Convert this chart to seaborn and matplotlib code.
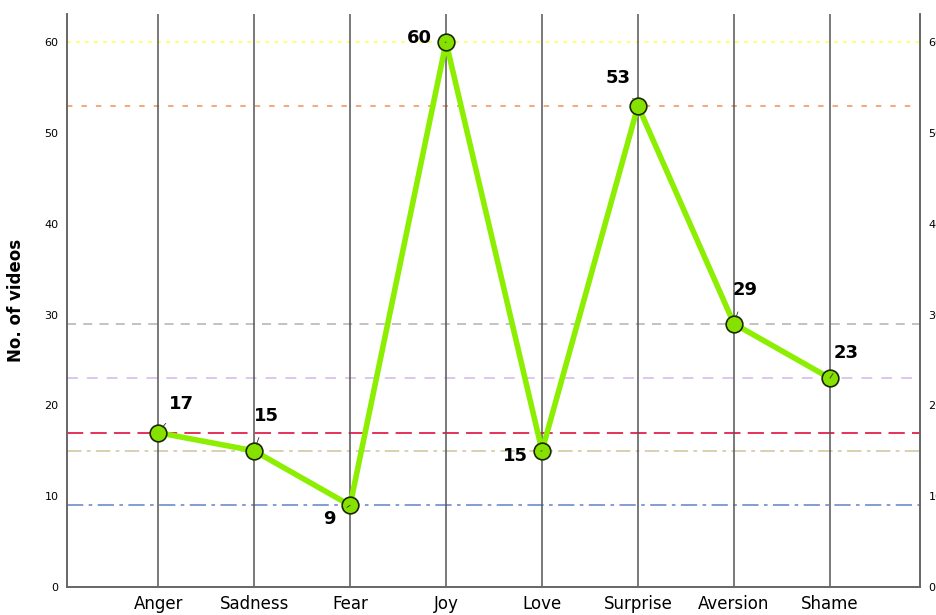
import numpy as np
import pandas as pd
import seaborn as sns
import matplotlib.pyplot as plt

emotions = ['Anger', 'Sadness', 'Fear', 'Joy', 'Love', 'Surprise', 'Aversion', 'Shame']
videos = [17, 15, 9, 60, 15, 53, 29, 23]

# label offsets (points) for each value annotation
label_offsets = [(17, 21), (9, 25), (-15, -10), (-19, 3), (-19, -4), (-14, 20), (8, 24), (12, 18)]

# reference line style per value
ref_styles = {
    60: ('#ffff60', (0, (2, 3))),
    53: ('#f4a070', (0, (3, 5))),
    29: ('#bdbdbd', (0, (5, 4))),
    23: ('#dcc0ec', (0, (6, 5))),
    17: ('#e3224c', (0, (9, 4))),
    15: ('#d2ceaa', (0, (8, 3, 2, 3))),
    9: ('#7894d2', (0, (9, 3, 2, 3))),
}

df = pd.DataFrame({'emotion': emotions, 'videos': videos})
df['pos'] = np.arange(len(df))

sns.set_style('white')
plt.rcParams['font.family'] = ['DejaVu Sans']
plt.rcParams['text.color'] = 'black'
plt.rcParams['axes.labelcolor'] = 'black'
plt.rcParams['xtick.color'] = 'black'
plt.rcParams['ytick.color'] = 'black'

fig = plt.figure(figsize=(9.37, 6.15), dpi=100)
ax = fig.add_axes([0.0715, 0.0455, 0.9105, 0.9315])

for v, (c, ls) in ref_styles.items():
    ax.axhline(v, color=c, linestyle=ls, lw=1.3, zorder=1)

for p in df['pos']:
    ax.axvline(p, color='#555555', lw=1.1, zorder=2)

sns.lineplot(data=df, x='pos', y='videos', color='#8cee00', lw=4, ax=ax,
             marker='o', markersize=12, markerfacecolor='#86e000',
             markeredgecolor='#1a2a00', markeredgewidth=1.2, zorder=3)

for p, v, off in zip(df['pos'], df['videos'], label_offsets):
    ax.annotate(str(v), xy=(p, v), xytext=off, textcoords='offset points',
                ha='center', va='center', fontsize=13, fontweight='bold',
                color='black',
                arrowprops=dict(arrowstyle='-', color='#333333', lw=0.6,
                                shrinkA=7, shrinkB=5), zorder=4)

ax.set_xlim(-0.95, 7.94)
ax.set_ylim(0, 63.1)
ax.set_xticks(df['pos'])
ax.set_xticklabels(emotions, fontsize=12)
ax.set_yticks(range(0, 61, 10))
ax.tick_params(axis='y', labelsize=8, length=0, pad=6)
ax.tick_params(axis='x', length=0, pad=6)
ax.set_xlabel('')
ax.set_ylabel('No. of videos', fontsize=12, fontweight='bold', labelpad=14)

ax2 = ax.twinx()
ax2.set_ylim(ax.get_ylim())
ax2.set_yticks(range(0, 61, 10))
ax2.tick_params(axis='y', labelsize=8, length=0, pad=6)

for a in (ax, ax2):
    for s in ['left', 'right', 'bottom']:
        a.spines[s].set_color('#666666')
        a.spines[s].set_linewidth(1.2)
    a.spines['top'].set_visible(False)

fig.savefig('out.png', dpi=100)
